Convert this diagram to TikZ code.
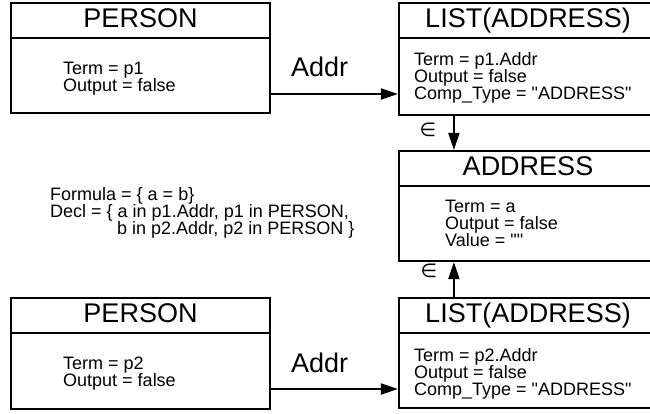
\documentclass[tikz,border=0pt]{standalone}
\usepackage{fontspec}
\setmainfont{Liberation Sans}
\newfontfamily\lsans{Liberation Sans}
\newfontfamily\dvs{DejaVu Sans}
\usetikzlibrary{arrows.meta}
\tikzset{
  x=1pt, y=-1pt,
  box/.style={draw, line width=2.2pt, inner sep=0pt, minimum width=258pt},
  title/.style={font=\lsans\fontsize{27}{30}\selectfont, inner sep=0pt, anchor=base},
  body/.style={font=\lsans\fontsize{18}{17}\selectfont, inner sep=0pt, align=left, anchor=north west},
  lbl/.style={font=\lsans\fontsize{27}{30}\selectfont, inner sep=0pt, anchor=base west},
  elem/.style={font=\dvs\fontsize{19}{20}\selectfont, inner sep=0pt},
  arr/.style={line width=2pt, -{Triangle[length=17pt,width=11pt]}},
  hdr/.style={line width=2.2pt}
}
\begin{document}
\begin{tikzpicture}
\useasboundingbox (0,0) rectangle (650,413);
\clip (0,0) rectangle (650,413);
% boxes
\node[box, minimum width=259pt, minimum height=110pt] (p1) at (140.5,58) {};
\node[box, minimum height=112pt] (l1) at (528,59) {};
\node[box, minimum height=110pt] (addr) at (528,206) {};
\node[box, minimum width=259pt, minimum height=111pt] (p2) at (140.5,353.5) {};
\node[box, minimum height=110pt] (l2) at (528,353) {};
% header lines
\foreach \b in {p1,l1,addr,p2,l2}{
  \draw[hdr] ([yshift=-36pt]\b.north west) -- ([yshift=-36pt]\b.north east);
}
% titles
\node[title] (p1t) at ([yshift=-25.5pt]p1.north) {PERSON};
\node[title] (l1t) at ([yshift=-25.5pt]l1.north) {LIST(ADDRESS)};
\node[title] (addrt) at ([yshift=-25.5pt]addr.north) {ADDRESS};
\node[title] (p2t) at ([yshift=-25.5pt]p2.north) {PERSON};
\node[title] (l2t) at ([yshift=-25.5pt]l2.north) {LIST(ADDRESS)};
% bodies
\node[body] (p1b) at (63,62) {Term = p1\\Output = false};
\node[body] (l1b) at (414,52) {Term = p1.Addr\\Output = false\\Comp\_Type = "ADDRESS"};
\node[body] (addrb) at (445,200) {Term = a\\Output = false\\Value = ""};
\node[body] (p2b) at (63,357) {Term = p2\\Output = false};
\node[body] (l2b) at (414,348) {Term = p2.Addr\\Output = false\\Comp\_Type = "ADDRESS"};
% formula
\node[body] (form) at (50,187) {Formula = \{ a = b\}\\Decl = \{ a in p1.Addr, p1 in PERSON,\\\hspace*{67pt}b in p2.Addr, p2 in PERSON \}};
% connectors
\draw[arr] ([yshift=-36pt]p1.east) -- ([yshift=-35pt]l1.west);
\node[lbl] (a1) at (291,76) {Addr};
\draw[arr] ([yshift=-35.5pt]p2.east) -- ([yshift=-36pt]l2.west);
\node[lbl] (a2) at (291,372) {Addr};
\draw[arr] ([xshift=56pt]l1.south west) -- ([xshift=56pt]addr.north west);
\node[elem] (e1) at (428,130) {∈};
\draw[arr] ([xshift=56pt]l2.north west) -- ([xshift=56pt]addr.south west);
\node[elem] (e2) at (429,271) {∈};
\end{tikzpicture}
\end{document}
